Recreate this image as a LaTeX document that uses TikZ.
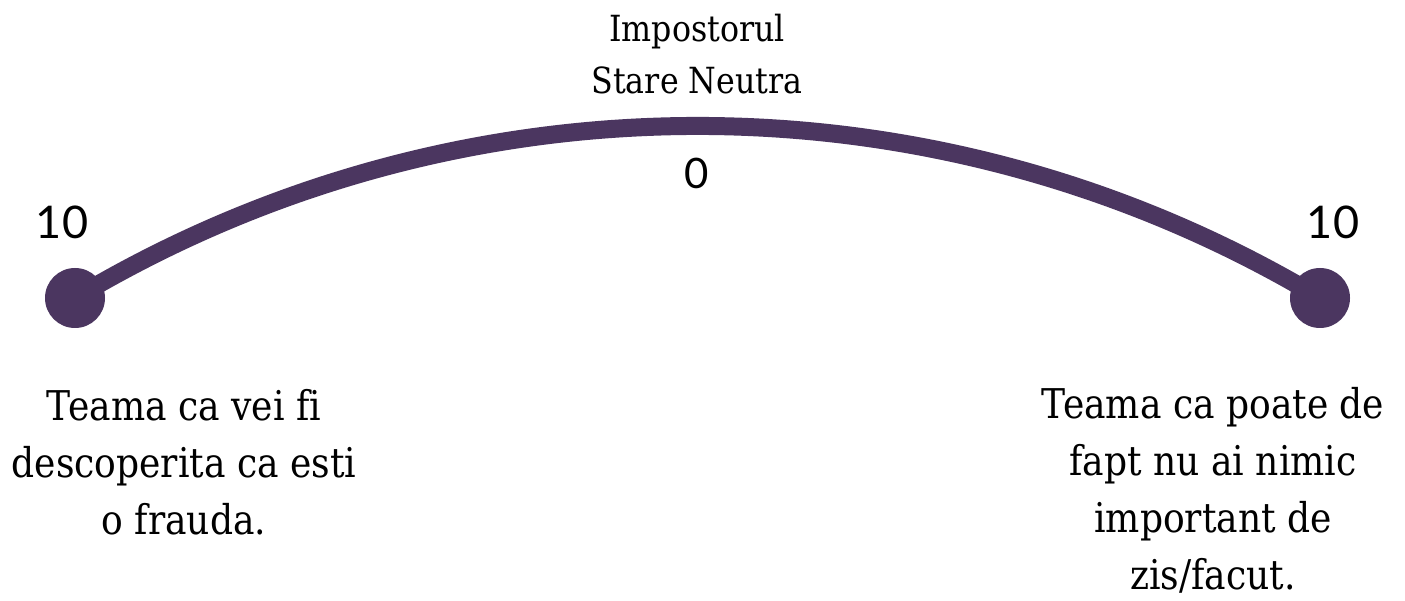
\documentclass[tikz,border=0pt]{standalone}
\usepackage{fontspec}
\setmainfont{DejaVu Serif}[FakeStretch=0.88, Ligatures=CommonOff]
\newfontfamily\numfont{Lato}
\definecolor{purp}{HTML}{4B3660}
\tikzset{
  dot/.style={circle, fill=purp, minimum size=60pt, inner sep=0pt},
  arcline/.style={draw=purp, line width=18pt},
  bodytxt/.style={align=center, inner sep=0pt, font=\fontsize{41}{57}\selectfont},
  toptxt/.style={align=center, inner sep=0pt, font=\fontsize{36}{52}\selectfont},
  numtxt/.style={inner sep=0pt, font=\numfont\fontsize{45}{52}\selectfont}
}
\begin{document}
\begin{tikzpicture}[x=1pt,y=-1pt]
\useasboundingbox (0,0) rectangle (1405,601);
\fill[white] (0,0) rectangle (1405,601);
\node[dot] (L) at (75,298) {};
\node[dot] (R) at (1320,298) {};
\draw[arcline] (L.center) .. controls (458.4,68.6) and (936.6,68.6) .. (R.center);
\node[toptxt, anchor=north] (top) at (697,14) {Impostorul\\Stare Neutra};
\node[numtxt, font=\numfont\fontsize{42}{48}\selectfont] (zero) at (697,173) {0};
\node[numtxt] (nl) at (62,222) {10};
\node[numtxt] (nr) at (1333,222) {10};
\node[bodytxt, anchor=north] (lt) at (184,389) {Teama ca vei fi\\descoperita ca esti\\o frauda.};
\node[bodytxt, anchor=north] (rt) at (1213,387) {Teama ca poate de\\fapt nu ai nimic\\important de\\zis/facut.};
\end{tikzpicture}
\end{document}
